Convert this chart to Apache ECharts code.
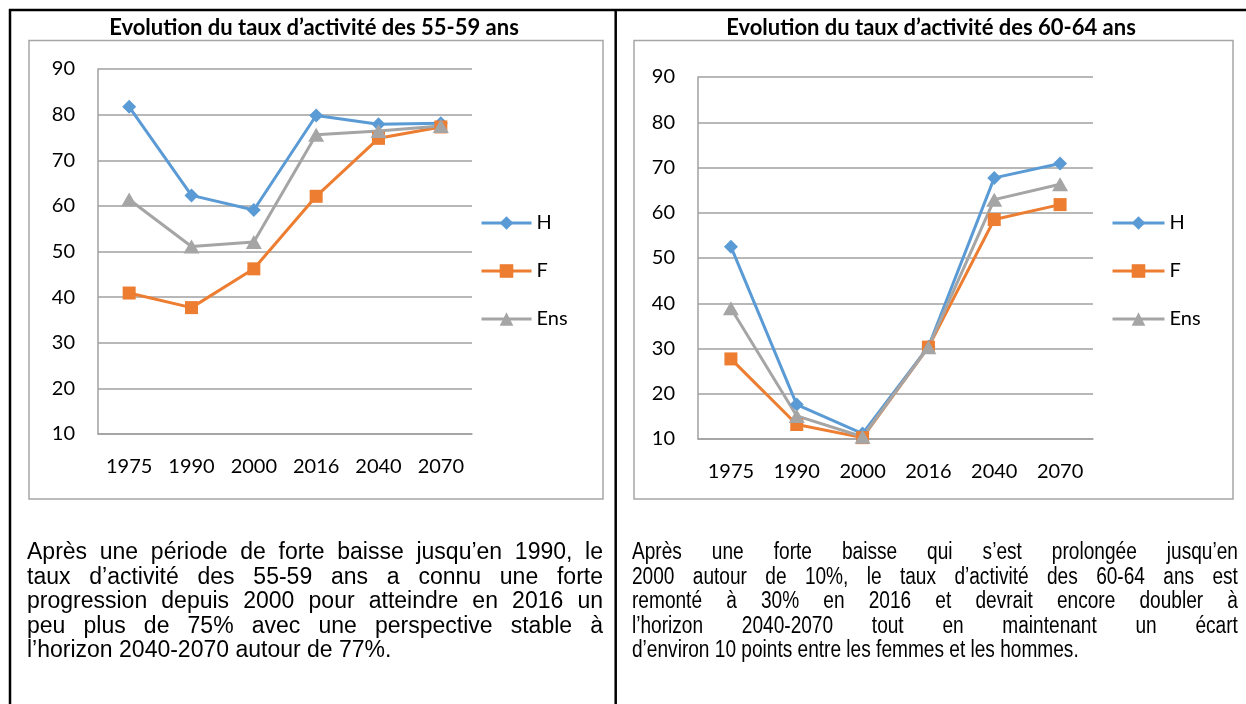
<!DOCTYPE html>
<html>
<head>
<meta charset="utf-8">
<script src="https://cdn.jsdelivr.net/npm/echarts@6/dist/echarts.min.js"></script>
<style>
  html, body { margin: 0; padding: 0; background: #ffffff; }
  #chart { position: absolute; left: 0; top: 0; width: 1246px; height: 704px; }
  .para { position: absolute; font-family: "Liberation Sans", Arial, sans-serif; font-size: 23px; color: #000; line-height: 24.5px; }
  .para div { text-align: justify; text-align-last: justify; white-space: nowrap; }
  .para div.last { text-align-last: left; }
  .narrow { transform: scaleX(0.83); transform-origin: 0 0; }
</style>
</head>
<body>
<div id="chart"></div>
<div class="para" style="left:27px; top:539px; width:576px;">
  <div>Après une période de forte baisse jusqu’en 1990, le</div>
  <div>taux d’activité des 55-59 ans a connu une forte</div>
  <div>progression depuis 2000 pour atteindre en 2016 un</div>
  <div>peu plus de 75% avec une perspective stable à</div>
  <div class="last">l’horizon 2040-2070 autour de 77%.</div>
</div>
<div class="para narrow" style="left:632px; top:539px; width:730px;">
  <div>Après une forte baisse qui s’est prolongée jusqu’en</div>
  <div>2000 autour de 10%, le taux d’activité des 60-64 ans est</div>
  <div>remonté à 30% en 2016 et devrait encore doubler à</div>
  <div>l’horizon 2040-2070 tout en maintenant un écart</div>
  <div class="last">d’environ 10 points entre les femmes et les hommes.</div>
</div>
<script>
// ---- data ----
var categories = ['1975', '1990', '2000', '2016', '2040', '2070'];
var seriesNames = ['H', 'F', 'Ens'];
var h5559 = [81.7, 62.3, 59.1, 79.8, 77.9, 78.1];
var f5559 = [40.9, 37.7, 46.2, 62.1, 74.8, 77.3];
var ens5559 = [61.4, 51.1, 52.1, 75.6, 76.4, 77.5];
var h6064 = [52.5, 17.6, 11.2, 30.4, 67.7, 70.9];
var f6064 = [27.7, 13.2, 10.3, 30.3, 58.5, 61.8];
var ens6064 = [38.9, 15.1, 10.5, 30.3, 62.9, 66.3];
var yMin = 10, yMax = 90, yStep = 10;
var titles = ['Evolution du taux d’activité des 55-59 ans', 'Evolution du taux d’activité des 60-64 ans'];

// ---- styles ----
var colors = ['#5B9BD5', '#ED7D31', '#A5A5A5'];
var symbols = ['diamond', 'rect', 'triangle'];
var symbolSizes = [14, 13, [16, 14]];
var font = 'Lato, "Open Sans", sans-serif';
var gridColor = '#a0a0a0';

var chart = echarts.init(document.getElementById('chart'), null, { renderer: 'canvas' });

function makeSeries(gridIdx, dataSets) {
  return dataSets.map(function (d, i) {
    return {
      name: seriesNames[i],
      type: 'line',
      xAxisIndex: gridIdx,
      yAxisIndex: gridIdx,
      data: d,
      symbol: symbols[i],
      symbolSize: symbolSizes[i],
      showAllSymbol: true,
      lineStyle: { color: colors[i], width: 3 },
      itemStyle: { color: colors[i] },
      emphasis: { disabled: true },
      animation: false
    };
  });
}

function xAx(gridIdx) {
  return {
    type: 'category', gridIndex: gridIdx, data: categories, boundaryGap: true,
    axisLine: { show: true, lineStyle: { color: gridColor, width: 1.5 } },
    axisTick: { show: false },
    axisLabel: { color: '#000', fontFamily: font, fontSize: 20, margin: 23 },
    splitLine: { show: false }
  };
}
function yAx(gridIdx) {
  return {
    type: 'value', gridIndex: gridIdx, min: yMin, max: yMax, interval: yStep,
    axisLine: { show: true, lineStyle: { color: gridColor, width: 1.5 } },
    axisTick: { show: false },
    axisLabel: { color: '#000', fontFamily: font, fontSize: 20, margin: 23 },
    splitLine: { show: true, lineStyle: { color: gridColor, width: 1.5 } }
  };
}

function legendAt(left, top, width) {
  return {
    orient: 'vertical', left: left, top: top, padding: 0,
    itemWidth: width, itemHeight: 17, itemGap: 28,
    data: seriesNames,
    lineStyle: { width: 3 },
    textStyle: { fontFamily: font, fontSize: 20, color: '#000', lineHeight: 20 },
    selectedMode: false
  };
}

function titleAt(text, cx) {
  return {
    text: text, left: cx, top: 17, textAlign: 'center', padding: 0,
    textStyle: { fontFamily: font, fontWeight: 'bold', fontSize: 22, color: '#000' }
  };
}

var option = {
  backgroundColor: 'transparent',
  animation: false,
  title: [titleAt(titles[0], 314), titleAt(titles[1], 931)],
  legend: [legendAt(480, 213, 50), legendAt(1111, 213, 52)],
  grid: [
    { left: 98, top: 69, width: 374, height: 365 },
    { left: 698, top: 77, width: 395, height: 362 }
  ],
  xAxis: [xAx(0), xAx(1)],
  yAxis: [yAx(0), yAx(1)],
  series: makeSeries(0, [h5559, f5559, ens5559]).concat(makeSeries(1, [h6064, f6064, ens6064])),
  graphic: [
    { type: 'rect', shape: { x: 29, y: 40.5, width: 574, height: 458.5 },
      style: { fill: 'none', stroke: '#a6a6a6', lineWidth: 1.5 }, silent: true },
    { type: 'rect', shape: { x: 634, y: 40.5, width: 599, height: 458.5 },
      style: { fill: 'none', stroke: '#a6a6a6', lineWidth: 1.5 }, silent: true },
    { type: 'line', shape: { x1: 9, y1: 10, x2: 1246, y2: 10 },
      style: { stroke: '#000', lineWidth: 2.5 }, silent: true },
    { type: 'line', shape: { x1: 10, y1: 9, x2: 10, y2: 704 },
      style: { stroke: '#000', lineWidth: 2.5 }, silent: true },
    { type: 'line', shape: { x1: 615.7, y1: 9, x2: 615.7, y2: 704 },
      style: { stroke: '#000', lineWidth: 2.5 }, silent: true }
  ]
};
chart.setOption(option);
</script>
</body>
</html>
